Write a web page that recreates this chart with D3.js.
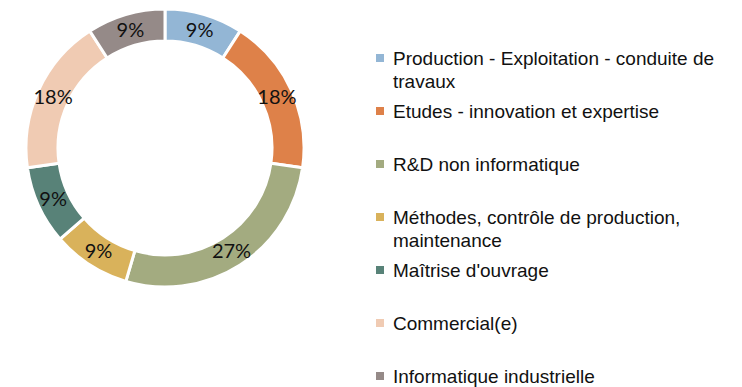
<!DOCTYPE html>
<html>
<head>
<meta charset="utf-8">
<script src="https://cdn.jsdelivr.net/npm/d3@7"></script>
<style>
  body { margin: 0; background: #fff; }
  svg { display: block; }
  .pct { font-family: Lato, "Open Sans", sans-serif; font-size: 20px; fill: #111; }
  .legend-label { font-family: "Liberation Sans Narrow", "Arial Narrow", "Liberation Sans", sans-serif; font-size: 19px; fill: #111; }
</style>
</head>
<body>
<svg></svg>
<script>
const categories = [
  "Production - Exploitation - conduite de travaux",
  "Etudes - innovation et expertise",
  "R&D non informatique",
  "Méthodes, contrôle de production, maintenance",
  "Maîtrise d'ouvrage",
  "Commercial(e)",
  "Informatique industrielle"
];
const counts = [1, 2, 3, 1, 1, 2, 1];
const legendLines = [
  ["Production - Exploitation - conduite de", "travaux"],
  ["Etudes - innovation et expertise"],
  ["R&D non informatique"],
  ["Méthodes, contrôle de production,", "maintenance"],
  ["Maîtrise d'ouvrage"],
  ["Commercial(e)"],
  ["Informatique industrielle"]
];
const colors = ["#93b6d5", "#de8149", "#a3ab80", "#d9b25b", "#588278", "#f0cbb3", "#958a88"];

const width = 742, height = 387;
const svg = d3.select("svg").attr("width", width).attr("height", height);

const cx = 165, cy = 148, outerR = 139, innerR = 107;
const total = d3.sum(counts);
const data = categories.map((c, i) => ({ name: c, value: counts[i], color: colors[i] }));

const pie = d3.pie().value(d => d.value).sort(null);
const arc = d3.arc().innerRadius(innerR).outerRadius(outerR);
const labelArc = d3.arc().innerRadius((innerR + outerR) / 2).outerRadius((innerR + outerR) / 2);

const g = svg.append("g").attr("transform", `translate(${cx},${cy})`);
const arcs = pie(data);

g.selectAll("path")
  .data(arcs)
  .join("path")
  .attr("d", arc)
  .attr("fill", d => d.data.color)
  .attr("stroke", "#fff")
  .attr("stroke-width", 3);

g.selectAll("text")
  .data(arcs)
  .join("text")
  .attr("class", "pct")
  .attr("transform", d => `translate(${labelArc.centroid(d)})`)
  .attr("text-anchor", "middle")
  .attr("dy", "0.35em")
  .text(d => d3.format(".0%")(d.data.value / total));

// legend
const legendX = 376, legendTop = 58, legendStep = 53, lineH = 23;
const legend = svg.append("g");
const items = legend.selectAll("g")
  .data(data)
  .join("g")
  .attr("transform", (d, i) => `translate(${legendX},${legendTop + i * legendStep})`);

items.append("rect")
  .attr("x", 0).attr("y", -4)
  .attr("width", 8).attr("height", 8)
  .attr("fill", d => d.color);

items.append("text")
  .attr("class", "legend-label")
  .attr("x", 17)
  .each(function (d, i) {
    d3.select(this).selectAll("tspan")
      .data(legendLines[i])
      .join("tspan")
      .attr("x", 17)
      .attr("dy", (t, j) => j === 0 ? "0.35em" : lineH)
      .text(t => t);
  });
</script>
</body>
</html>
